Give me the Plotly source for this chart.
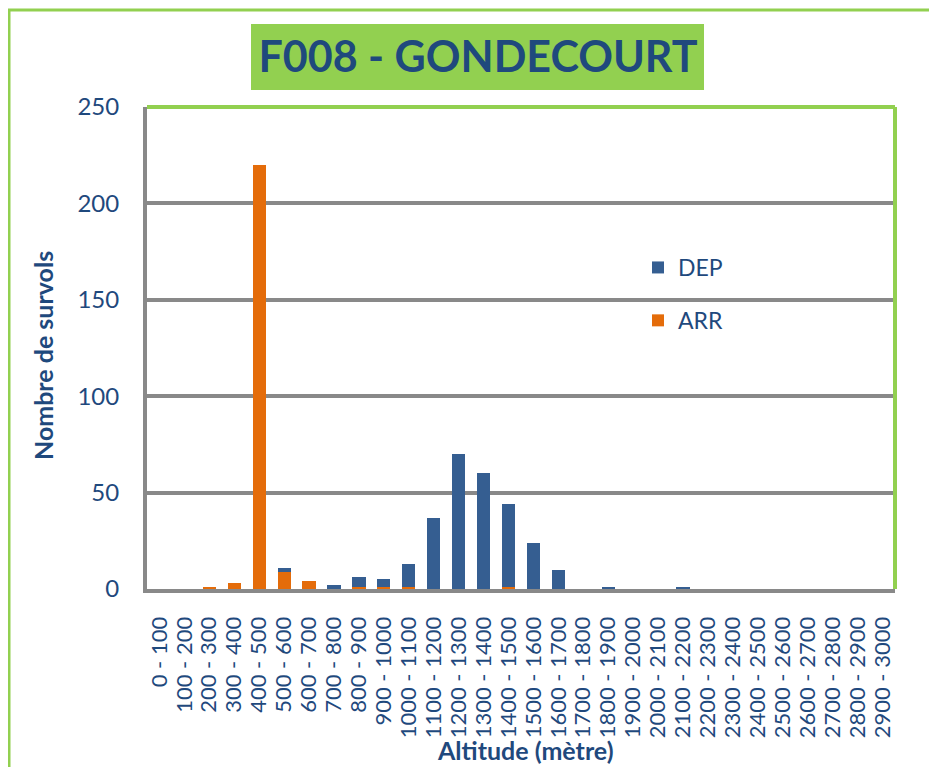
import plotly.graph_objects as go

categories = [f"{i*100} - {(i+1)*100}" for i in range(30)]
arr_values = [0, 0, 1, 3, 220, 9, 4, 0, 1, 1, 1, 0, 0, 0, 1, 0, 0, 0, 0, 0,
              0, 0, 0, 0, 0, 0, 0, 0, 0, 0]
dep_values = [0, 0, 0, 0, 0, 2, 0, 2, 5, 4, 12, 37, 70, 60, 43, 24, 10, 0, 1, 0,
              0, 1, 0, 0, 0, 0, 0, 0, 0, 0]
y_ticks = [0, 50, 100, 150, 200, 250]

OFF = 8  # page body margin
W, H = 937 - OFF, 767 - OFF
L, R, T, B = 147 - OFF, 42, 107 - OFF, 178
PW, PH = W - L - R, H - T - B

def px(x):  # screen x -> paper
    return (x - OFF - L) / PW

def py(y):  # screen y -> paper
    return (H - B - (y - OFF)) / PH

TXT = "#1F497D"
GREEN = "#92D050"
GRAY = "#898989"
FONT = "Lato"

fig = go.Figure()
fig.add_trace(go.Bar(x=categories, y=arr_values, name="ARR", marker_color="#E46C0A",
                     legendgroup="arr", legendrank=2, marker_line_width=0))
fig.add_trace(go.Bar(x=categories, y=dep_values, name="DEP", marker_color="#355E91",
                     legendgroup="dep", legendrank=1, marker_line_width=0))

fig.update_layout(
    width=W, height=H,
    margin=dict(l=L, r=R, t=T, b=B, autoexpand=False),
    barmode="stack", bargap=0.47,
    paper_bgcolor="white", plot_bgcolor="white",
    font=dict(family=FONT, color=TXT, size=21),
    title=dict(text="<b>F008 - GONDECOURT</b>", font=dict(family=FONT, size=43, color=TXT),
               x=(478 - OFF) / W, xanchor="center", xref="container",
               y=1 - (57 - OFF) / H, yanchor="middle", yref="container"),
    legend=dict(x=px(638), y=py(246), xanchor="left", yanchor="top",
                traceorder="grouped", tracegroupgap=20,
                font=dict(family=FONT, size=23, color=TXT),
                bgcolor="rgba(0,0,0,0)"),
    xaxis=dict(type="category", range=[-0.5, 29.5], tickangle=-90,
               tickmode="array", tickvals=categories, ticktext=categories,
               tickfont=dict(family=FONT, size=22, color=TXT),
               ticks="outside", ticklen=15, tickcolor="rgba(0,0,0,0)",
               showline=True, linecolor=GRAY, linewidth=4,
               showgrid=False),
    yaxis=dict(range=[0, 250], tickvals=y_ticks,
               tickfont=dict(family=FONT, size=24, color=TXT),
               ticks="outside", ticklen=19, tickcolor="rgba(0,0,0,0)",
               showline=True, linecolor=GRAY, linewidth=4,
               showgrid=True, gridcolor=GRAY, gridwidth=3.5,
               zeroline=False),
    annotations=[
        dict(text="<b>Nombre de survols</b>", textangle=-90, showarrow=False,
             xref="paper", yref="paper", x=px(43), y=py(356),
             xanchor="center", yanchor="middle",
             font=dict(family=FONT, size=25, color=TXT)),
        dict(text="<b>Altitude (mètre)</b>", showarrow=False,
             xref="paper", yref="paper", x=px(525), y=py(766),
             xanchor="center", yanchor="bottom", borderpad=0,
             font=dict(family=FONT, size=25, color=TXT)),
    ],
    shapes=[
        # outer chart border
        dict(type="rect", xref="paper", yref="paper",
             x0=px(OFF + 1), x1=px(960), y0=py(800), y1=py(10),
             line=dict(color=GREEN, width=3), layer="below"),
        # title background
        dict(type="rect", xref="paper", yref="paper",
             x0=px(251), x1=px(704), y0=py(90), y1=py(24),
             fillcolor=GREEN, line=dict(width=0), layer="below"),
        # plot area top and right border
        dict(type="line", xref="paper", yref="paper", x0=0, x1=1, y0=1, y1=1,
             line=dict(color=GREEN, width=4), layer="above"),
        dict(type="line", xref="paper", yref="paper", x0=1, x1=1, y0=0, y1=1,
             line=dict(color=GREEN, width=4), layer="above"),
    ],
)

fig.write_html("out.html")
